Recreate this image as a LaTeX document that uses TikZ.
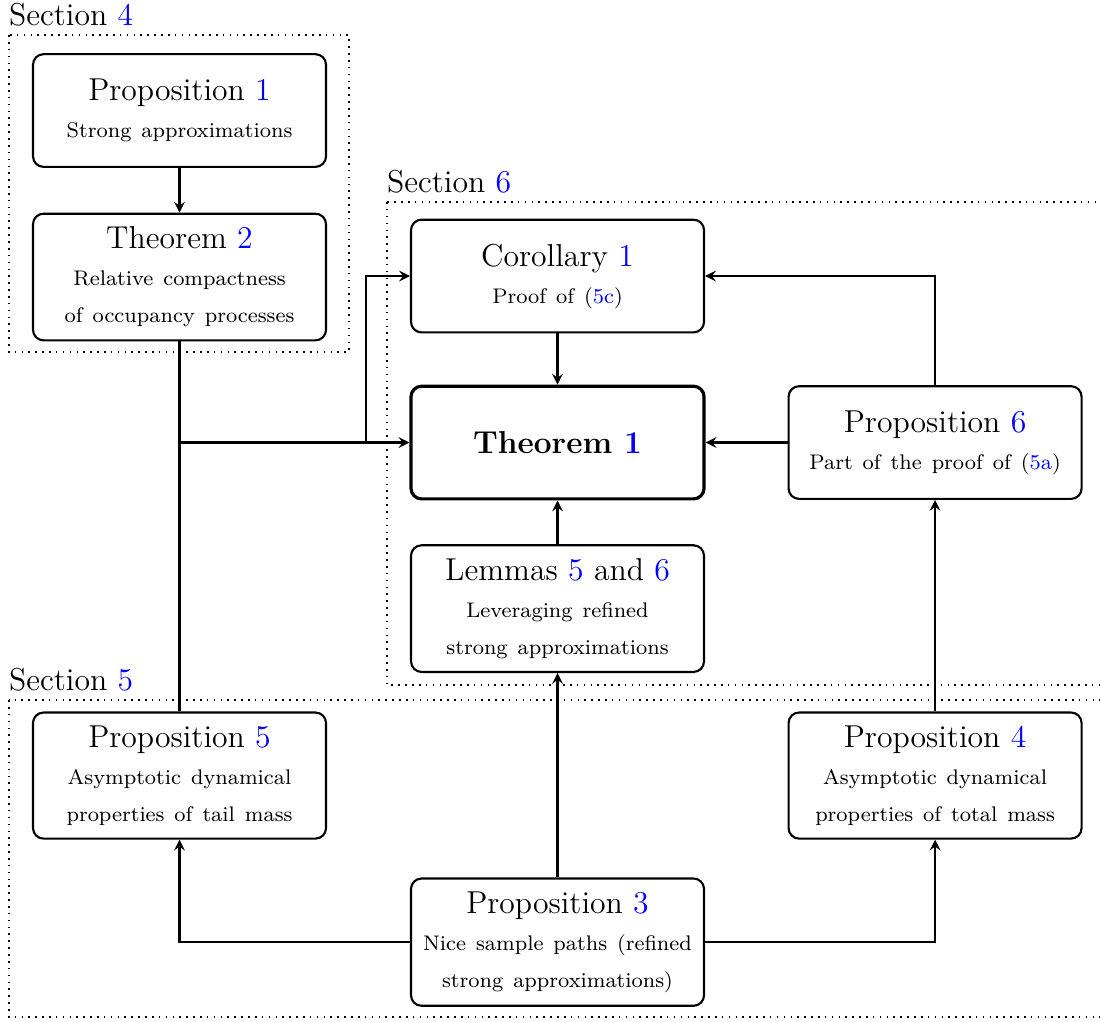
\documentclass[tikz,border=0pt]{standalone}
\usepackage{amsmath,amssymb}
\usepackage{xcolor}
\usepackage{tikz}
\usetikzlibrary{shapes,arrows,positioning,calc,arrows.meta}

\newcommand{\lnk}[1]{\textcolor{blue}{#1}}
\newcommand{\subtxt}[1]{{\footnotesize\spaceskip=0.47em plus 0.1em\relax #1}}

\begin{document}
\begin{tikzpicture}[>=stealth, thick,
    res/.style={draw, rounded corners=4pt, minimum width=3.9cm, minimum height=1.5cm, align=center, font=\large, inner ysep=5pt, inner xsep=3pt},
    mainres/.style={res, very thick, font=\large\bfseries},
    sect/.style={draw, dotted, semithick},
    secttitle/.style={anchor=base west, inner sep=0pt, font=\large}]
    \useasboundingbox (0,0) rectangle (14.64,13.59);

    % Section 4
    \draw[sect] (0.12,13.123) rectangle (4.645,8.904);
    \node[secttitle] (S4) at (0.107,13.257) {Section \lnk{4}};
    \node[res] (P1) at (2.389,12.119) {Proposition \lnk{1}\\\subtxt{Strong approximations}};
    \node[res] (T2) at (2.389,9.903) {Theorem \lnk{2}\\\subtxt{Relative compactness}\\\subtxt{of occupancy processes}};

    % Section 6
    \draw[sect] (5.151,10.901) rectangle (15,4.472);
    \node[secttitle] (S6) at (5.138,11.034) {Section \lnk{6}};
    \node[res] (C1) at (7.420,9.916) {Corollary \lnk{1}\\\subtxt{Proof of (\lnk{5c})}};
    \node[mainres] (T1) at (7.420,7.700) {Theorem \lnk{1}};
    \node[res] (P6) at (12.445,7.700) {Proposition \lnk{6}\\\subtxt{Part of the proof of (\lnk{5a})}};
    \node[res] (L56) at (7.420,5.490) {Lemmas \lnk{5} and \lnk{6}\\\subtxt{Leveraging refined}\\\subtxt{strong approximations}};

    % Section 5
    \draw[sect] (0.12,4.273) rectangle (15,0.053);
    \node[secttitle] (S5) at (0.107,4.406) {Section \lnk{5}};
    \node[res] (P5) at (2.389,3.268) {Proposition \lnk{5}\\\subtxt{Asymptotic dynamical}\\\subtxt{properties of tail mass}};
    \node[res] (P4) at (12.445,3.268) {Proposition \lnk{4}\\\subtxt{Asymptotic dynamical}\\\subtxt{properties of total mass}};
    \node[res] (P3) at (7.420,1.051) {Proposition \lnk{3}\\\subtxt{Nice sample paths (refined}\\\subtxt{strong approximations)}};

    % Dependencies
    \draw[->] (P1) -- (T2);
    \draw (T2.south) -- (P5.north);
    \draw[->] (T2.south |- T1.west) -- (T1.west);
    \path (T1.west) ++(-0.572,0) coordinate (J);
    \draw[->] (J) |- (C1.west);
    \draw[->] (C1) -- (T1);
    \draw[->] (P6) -- (T1);
    \draw[->] (P6.north) |- (C1.east);
    \draw[->] (L56) -- (T1);
    \draw[->] (P3) -- (L56);
    \draw[->] (P3.west) -| (P5.south);
    \draw[->] (P3.east) -| (P4.south);
    \draw[->] (P4) -- (P6);
\end{tikzpicture}
\end{document}
